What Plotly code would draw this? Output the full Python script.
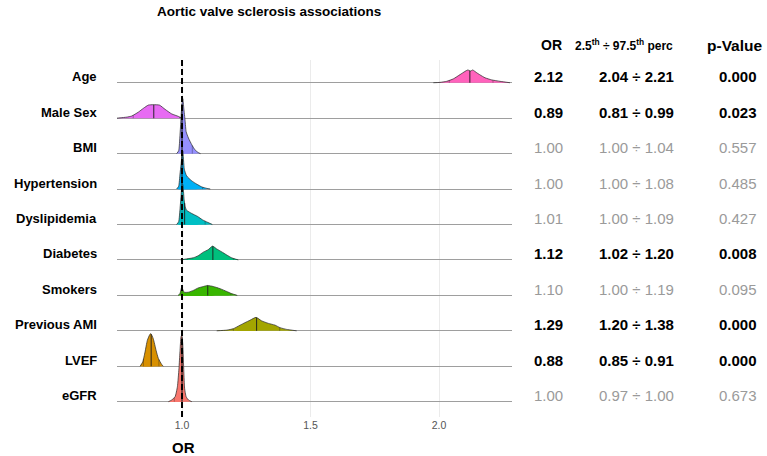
import numpy as np
import plotly.graph_objects as go

# ---------------- data ----------------
variables = ["Age", "Male Sex", "BMI", "Hypertension", "Dyslipidemia",
             "Diabetes", "Smokers", "Previous AMI", "LVEF", "eGFR"]
or_vals = [2.12, 0.89, 1.00, 1.00, 1.01, 1.12, 1.10, 1.29, 0.88, 1.00]
ci_lo = [2.04, 0.81, 1.00, 1.00, 1.00, 1.02, 1.00, 1.20, 0.85, 0.97]
ci_hi = [2.21, 0.99, 1.04, 1.08, 1.09, 1.20, 1.19, 1.38, 0.91, 1.00]
p_vals = [0.000, 0.023, 0.557, 0.485, 0.427, 0.008, 0.095, 0.000, 0.000, 0.673]
x_ticks = [1.0, 1.5, 2.0]
x_tick_text = ["1.0", "1.5", "2.0"]

# posterior densities of OR (x grid, relative density in row-height units)
age_x = [1.978, 2.004, 2.030, 2.056, 2.082, 2.101, 2.112, 2.123, 2.131, 2.147, 2.160, 2.179, 2.205, 2.237, 2.276]
age_d = [0.0, 0.01, 0.04, 0.11, 0.23, 0.32, 0.36, 0.33, 0.36, 0.28, 0.22, 0.14, 0.08, 0.04, 0.0]
male_x = [0.746, 0.759, 0.785, 0.804, 0.830, 0.850, 0.869, 0.888, 0.912, 0.934, 0.960, 0.986, 0.999]
male_d = [0.0, 0.01, 0.03, 0.06, 0.17, 0.28, 0.37, 0.38, 0.37, 0.25, 0.12, 0.05, 0.0]
bmi_x = [0.979, 0.987, 0.992, 0.996, 0.999, 1.003, 1.007, 1.012, 1.016, 1.025, 1.038, 1.050, 1.063, 1.072]
bmi_d = [0.0, 0.08, 0.51, 0.99, 1.35, 1.55, 1.27, 0.93, 0.62, 0.44, 0.25, 0.11, 0.03, 0.0]
htn_x = [0.979, 0.987, 0.992, 0.996, 0.999, 1.003, 1.009, 1.018, 1.038, 1.057, 1.077, 1.096, 1.110]
htn_d = [0.0, 0.08, 0.42, 0.68, 0.90, 1.07, 0.56, 0.37, 0.23, 0.14, 0.06, 0.02, 0.0]
dys_x = [0.979, 0.987, 0.992, 0.996, 0.999, 1.003, 1.008, 1.012, 1.018, 1.038, 1.060, 1.080, 1.100, 1.118]
dys_d = [0.0, 0.08, 0.42, 0.79, 1.07, 1.13, 0.71, 0.51, 0.40, 0.31, 0.23, 0.13, 0.06, 0.0]
dia_x = [0.995, 1.018, 1.044, 1.063, 1.083, 1.102, 1.119, 1.135, 1.154, 1.174, 1.193, 1.219]
dia_d = [0.0, 0.03, 0.06, 0.12, 0.22, 0.29, 0.39, 0.31, 0.23, 0.14, 0.06, 0.0]
smk_x = [0.985, 0.992, 0.999, 1.008, 1.025, 1.044, 1.063, 1.083, 1.099, 1.122, 1.148, 1.174, 1.193, 1.215]
smk_d = [0.0, 0.05, 0.23, 0.09, 0.09, 0.14, 0.21, 0.25, 0.28, 0.25, 0.19, 0.11, 0.05, 0.0]
ami_x = [1.135, 1.174, 1.200, 1.226, 1.245, 1.265, 1.288, 1.310, 1.336, 1.362, 1.381, 1.407, 1.446]
ami_d = [0.0, 0.02, 0.06, 0.16, 0.23, 0.30, 0.38, 0.28, 0.21, 0.16, 0.09, 0.04, 0.0]
lvef_x = [0.837, 0.847, 0.856, 0.865, 0.875, 0.879, 0.888, 0.899, 0.908, 0.921, 0.927]
lvef_d = [0.0, 0.12, 0.40, 0.73, 0.90, 0.92, 0.78, 0.45, 0.22, 0.05, 0.0]
egfr_x = [0.947, 0.960, 0.973, 0.982, 0.988, 0.992, 0.996, 0.999, 1.003, 1.007, 1.010, 1.016, 1.025, 1.038]
egfr_d = [0.0, 0.05, 0.14, 0.42, 0.93, 1.41, 1.83, 1.88, 1.61, 0.85, 0.38, 0.14, 0.05, 0.0]

dens = {
    "Age": (age_x, age_d), "Male Sex": (male_x, male_d), "BMI": (bmi_x, bmi_d),
    "Hypertension": (htn_x, htn_d), "Dyslipidemia": (dys_x, dys_d),
    "Diabetes": (dia_x, dia_d), "Smokers": (smk_x, smk_d),
    "Previous AMI": (ami_x, ami_d), "LVEF": (lvef_x, lvef_d), "eGFR": (egfr_x, egfr_d),
}
colors = ["#FF62BC", "#E76BF3", "#9590FF", "#00B0F6", "#00BFC4",
          "#00BF7D", "#39B600", "#A3A500", "#D89000", "#F8766D"]

# ---------------- layout geometry ----------------
W, H = 767, 456
px_left, px_right, px_top, px_bottom = 117, 512, 60, 417
row_px = 35.44
base_eGFR_px = 401.7
x_range = [0.747, 2.284]
y_top = (base_eGFR_px - px_top) / row_px
y_bot = (base_eGFR_px - px_bottom) / row_px

FONT = "Liberation Sans, Arial, sans-serif"
fig = go.Figure()
n = len(variables)
for i, v in enumerate(variables):
    k = n - 1 - i
    xs, ds = dens[v]
    xs = np.array(xs)
    ys = k + np.array(ds)
    fig.add_trace(go.Scatter(
        x=list(xs) + [xs[-1], xs[0]], y=list(ys) + [k, k],
        mode="lines", fill="toself", fillcolor=colors[i],
        line=dict(width=0, shape="spline", smoothing=0.5),
        hoverinfo="skip", showlegend=False))
    fig.add_trace(go.Scatter(
        x=xs, y=ys, mode="lines",
        line=dict(color="rgba(40,40,40,0.8)", width=0.9, shape="spline", smoothing=0.5),
        hoverinfo="skip", showlegend=False))
    # median and quantile lines
    for val, w, c in [(or_vals[i], 1.1, "rgba(30,30,30,0.85)"),
                      (ci_lo[i], 0.7, "rgba(30,30,30,0.5)"),
                      (ci_hi[i], 0.7, "rgba(30,30,30,0.5)")]:
        h = float(np.interp(val, xs, ds))
        if h > 0.005:
            fig.add_trace(go.Scatter(x=[val, val], y=[k, k + h], mode="lines",
                                     line=dict(color=c, width=w),
                                     hoverinfo="skip", showlegend=False))

# reference line at OR = 1 (spans the panel only)
fig.add_shape(type="line", xref="x", yref="y domain", x0=1.0, x1=1.0, y0=0, y1=1,
              line=dict(color="black", width=2, dash="6px,3px"), layer="above")

ann = []
# title
ann.append(dict(text="<b>Aortic valve sclerosis associations</b>", x=269 / W, y=1 - 11 / H,
                xref="paper", yref="paper", showarrow=False, xanchor="center", yanchor="middle",
                font=dict(family=FONT, size=13.5, color="black")))
# headers
col_or_x, col_ci_x, col_p_x = 548, 636, 738
for txt, px, sz in [("<b>OR</b>", 551, 14), ("<b>2.5<sup>th</sup> ÷ 97.5<sup>th</sup> perc</b>", 623.5, 12),
                    ("<b>p-Value</b>", 735, 15.5)]:
    ann.append(dict(text=txt, x=px / W, y=1 - 45 / H, xref="paper", yref="paper",
                    showarrow=False, xanchor="center", yanchor="middle",
                    font=dict(family=FONT, size=sz, color="black")))
# rows
for i, v in enumerate(variables):
    k = n - 1 - i
    sig = p_vals[i] < 0.05
    col = "black" if sig else "#9a9a9a"
    b0, b1 = ("<b>", "</b>") if sig else ("", "")
    ann.append(dict(text="<b>" + v + "</b>", x=99 / W, y=k, yshift=6, xref="paper", yref="y",
                    showarrow=False, xanchor="right", yanchor="middle",
                    font=dict(family=FONT, size=13, color="black")))
    cells = [(f"{or_vals[i]:.2f}", col_or_x),
             (f"{ci_lo[i]:.2f} ÷ {ci_hi[i]:.2f}", col_ci_x),
             (f"{p_vals[i]:.3f}", col_p_x)]
    for txt, px in cells:
        ann.append(dict(text=b0 + txt + b1, x=px / W, y=k, yshift=6, xref="paper", yref="y",
                        showarrow=False, xanchor="center", yanchor="middle",
                        font=dict(family=FONT, size=15, color=col)))
# x axis title
ann.append(dict(text="<b>OR</b>", x=183 / W, y=1 - 447 / H, xref="paper", yref="paper",
                showarrow=False, xanchor="center", yanchor="middle",
                font=dict(family=FONT, size=15, color="black")))

fig.update_layout(
    width=W, height=H, margin=dict(l=0, r=0, t=0, b=0),
    paper_bgcolor="white", plot_bgcolor="white",
    annotations=ann, showlegend=False,
    xaxis=dict(domain=[px_left / W, px_right / W], range=x_range,
               tickvals=x_ticks, ticktext=x_tick_text, showgrid=True, gridcolor="#ebebeb",
               gridwidth=1, zeroline=False, showline=False, ticks="",
               tickfont=dict(family=FONT, size=10.5, color="#555555"), automargin=False),
    yaxis=dict(domain=[1 - px_bottom / H, 1 - px_top / H], range=[y_bot, y_top],
               tickvals=list(range(n)), showticklabels=False, showgrid=True,
               gridcolor="#9e9e9e", gridwidth=1.4, zeroline=False, showline=False,
               ticks="", automargin=False),
)
fig.write_html("out.html", config={"displayModeBar": False},
               post_script="document.body.style.margin='0px';document.body.style.overflow='hidden';")
